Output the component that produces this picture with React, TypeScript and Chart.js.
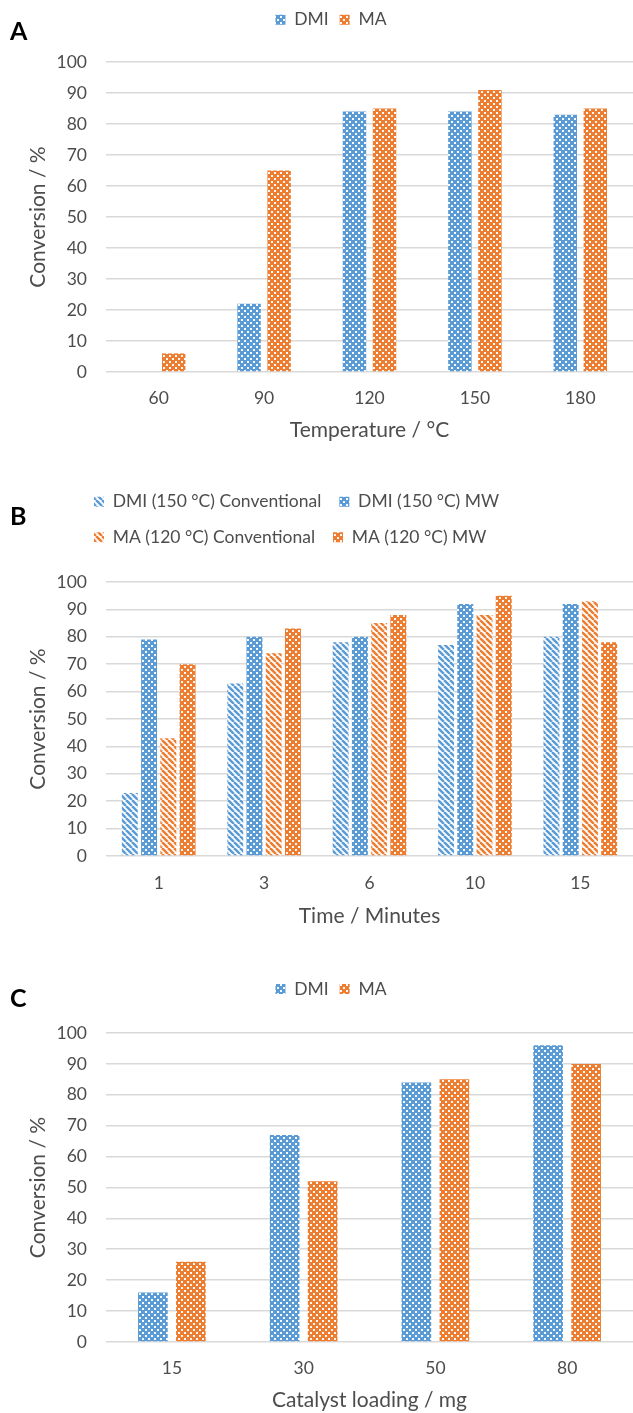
import React, { useEffect, useRef } from 'react';
import { Chart, registerables } from 'chart.js';

Chart.register(...registerables);

// ---------- data ----------
const temperatureLabels = ['60', '90', '120', '150', '180'];
const temperatureDMI = [0, 22, 84, 84, 83];
const temperatureMA = [6, 65, 85, 91, 85];

const timeLabels = ['1', '3', '6', '10', '15'];
const timeDMIConventional = [23, 63, 78, 77, 80];
const timeDMIMW = [79, 80, 80, 92, 92];
const timeMAConventional = [43, 74, 85, 88, 93];
const timeMAMW = [70, 83, 88, 95, 78];

const loadingLabels = ['15', '30', '50', '80'];
const loadingDMI = [16, 67, 84, 96];
const loadingMA = [26, 52, 85, 90];

// ---------- style ----------
const FONT = 'Lato, "Open Sans", "DejaVu Sans", sans-serif';
const TXT = '#4d4d4d';
const GRID = '#D9D9D9';
const BLUE = '#5B9BD5';
const ORANGE = '#ED7D31';

function dotPattern(ctx: CanvasRenderingContext2D, color: string) {
  const s = 6;
  const c = document.createElement('canvas');
  c.width = s;
  c.height = s;
  const g = c.getContext('2d')!;
  g.fillStyle = color;
  g.fillRect(0, 0, s, s);
  g.fillStyle = 'rgba(255,255,255,0.95)';
  g.fillRect(1, 1, 2, 2);
  g.fillRect(4, 4, 2, 2);
  return ctx.createPattern(c, 'repeat') as CanvasPattern;
}

function stripePattern(ctx: CanvasRenderingContext2D, color: string) {
  const s = 6;
  const c = document.createElement('canvas');
  c.width = s;
  c.height = s;
  const g = c.getContext('2d')!;
  g.fillStyle = '#ffffff';
  g.fillRect(0, 0, s, s);
  g.strokeStyle = color;
  g.lineWidth = 2.5;
  for (let k = -1; k <= 1; k++) {
    g.beginPath();
    g.moveTo(k * s, 0);
    g.lineTo(k * s + s, s);
    g.stroke();
  }
  return ctx.createPattern(c, 'repeat') as CanvasPattern;
}

type Layout = {
  height: number;
  padTop: number;
  legendPad: number;
  legendAlign: 'start' | 'center';
  legendLeft?: number;
  spacer: number;
  xAxisH: number;
  xTickPad: number;
  xTitlePb: number;
  catPct: number;
  barPct: number;
  letter: string;
  letterY: number;
  xTitle: string;
};

type DS = { label: string; data: number[]; color: string; kind: 'dot' | 'stripe' };

const PAD_LEFT = 29;
const PLOT_LEFT = 106;

function PanelChart({ labels, series, layout }: { labels: string[]; series: DS[]; layout: Layout }) {
  const ref = useRef<HTMLCanvasElement | null>(null);
  useEffect(() => {
    const canvas = ref.current!;
    const ctx = canvas.getContext('2d')!;
    const yTitleLH = 21 * 1.2;
    const panelPlugin = {
      id: 'panelLetter',
      beforeDraw(chart: any) {
        if (layout.legendLeft !== undefined && chart.legend) {
          chart.legend.left = layout.legendLeft;
        }
      },
      afterDraw(chart: any) {
        const c = chart.ctx;
        c.save();
        c.font = `bold 25px ${FONT}`;
        c.fillStyle = '#000000';
        c.textBaseline = 'middle';
        c.textAlign = 'left';
        c.fillText(layout.letter, 10, layout.letterY);
        c.restore();
      },
    };
    const chart = new Chart(ctx, {
      type: 'bar',
      data: {
        labels,
        datasets: series.map((s) => ({
          label: s.label,
          data: s.data,
          xAxisID: 'x',
          yAxisID: 'y',
          backgroundColor: s.kind === 'dot' ? dotPattern(ctx, s.color) : stripePattern(ctx, s.color),
          borderWidth: 0,
          categoryPercentage: layout.catPct,
          barPercentage: layout.barPct,
        })),
      },
      options: {
        responsive: false,
        animation: false,
        events: [],
        layout: { padding: { top: layout.padTop, left: PAD_LEFT, right: 0, bottom: 0 } },
        plugins: {
          tooltip: { enabled: false },
          legend: {
            position: 'top',
            align: layout.legendAlign,
            labels: {
              color: TXT,
              font: { family: FONT, size: 17.5 },
              boxWidth: 10,
              boxHeight: 10,
              padding: layout.legendPad,
            },
          },
        },
        scales: {
          x: {
            type: 'category',
            position: 'bottom',
            offset: true,
            grid: { display: false, drawTicks: false },
            border: { display: false },
            ticks: { color: TXT, font: { family: FONT, size: 17.5 }, padding: layout.xTickPad, maxRotation: 0 },
            title: {
              display: true,
              text: layout.xTitle,
              color: TXT,
              font: { family: FONT, size: 21 },
              padding: { top: 0, bottom: layout.xTitlePb },
            },
            afterFit: (s: any) => {
              s.height = layout.xAxisH;
            },
          },
          spacer: {
            type: 'category',
            position: 'top',
            display: true,
            grid: { display: false, drawTicks: false },
            border: { display: false },
            ticks: { display: false },
            afterFit: (s: any) => {
              s.height = layout.spacer;
            },
          },
          y: {
            type: 'linear',
            position: 'left',
            min: 0,
            max: 100,
            ticks: { stepSize: 10, padding: 19, color: TXT, font: { family: FONT, size: 17.5 } },
            grid: { color: GRID, lineWidth: 1.6, drawTicks: false },
            border: { display: false },
            title: {
              display: true,
              text: 'Conversion / %',
              color: TXT,
              font: { family: FONT, size: 21 },
              padding: { top: 38 - PAD_LEFT - yTitleLH / 2, bottom: 0 },
            },
            afterFit: (s: any) => {
              s.width = PLOT_LEFT - PAD_LEFT;
            },
          },
        },
      } as any,
      plugins: [panelPlugin],
    });
    return () => chart.destroy();
  }, []);
  return (
    <canvas
      ref={ref}
      width={633}
      height={layout.height}
      style={{ display: 'block', width: 633, height: layout.height }}
    />
  );
}

const layoutA: Layout = {
  height: 460, padTop: 0, legendPad: 11, legendAlign: 'center', spacer: 23.5,
  xAxisH: 88, xTickPad: 15.5, xTitlePb: 17.4, catPct: 0.57, barPct: 0.78,
  letter: 'A', letterY: 31.5, xTitle: 'Temperature / °C',
};
const layoutB: Layout = {
  height: 470, padTop: 5, legendPad: 18, legendAlign: 'start', legendLeft: 76, spacer: 26,
  xAxisH: 84, xTickPad: 16.5, xTitlePb: 11.4, catPct: 0.73, barPct: 0.83,
  letter: 'B', letterY: 47, xTitle: 'Time / Minutes',
};
const layoutC: Layout = {
  height: 463, padTop: 19.25, legendPad: 11, legendAlign: 'center', spacer: 25.25,
  xAxisH: 71, xTickPad: 15.5, xTitlePb: 0.4, catPct: 0.577, barPct: 0.78,
  letter: 'C', letterY: 49, xTitle: 'Catalyst loading / mg',
};

export default function App() {
  return (
    <div style={{ position: 'absolute', left: 0, top: 0, width: 633, height: 1413, background: '#ffffff', overflow: 'hidden' }}>
      <div style={{ position: 'absolute', left: 0, top: 0 }}>
        <PanelChart
          labels={temperatureLabels}
          layout={layoutA}
          series={[
            { label: 'DMI', data: temperatureDMI, color: BLUE, kind: 'dot' },
            { label: 'MA', data: temperatureMA, color: ORANGE, kind: 'dot' },
          ]}
        />
      </div>
      <div style={{ position: 'absolute', left: 0, top: 470 }}>
        <PanelChart
          labels={timeLabels}
          layout={layoutB}
          series={[
            { label: 'DMI (150 °C) Conventional', data: timeDMIConventional, color: BLUE, kind: 'stripe' },
            { label: 'DMI (150 °C) MW', data: timeDMIMW, color: BLUE, kind: 'dot' },
            { label: 'MA (120 °C) Conventional', data: timeMAConventional, color: ORANGE, kind: 'stripe' },
            { label: 'MA (120 °C) MW', data: timeMAMW, color: ORANGE, kind: 'dot' },
          ]}
        />
      </div>
      <div style={{ position: 'absolute', left: 0, top: 950 }}>
        <PanelChart
          labels={loadingLabels}
          layout={layoutC}
          series={[
            { label: 'DMI', data: loadingDMI, color: BLUE, kind: 'dot' },
            { label: 'MA', data: loadingMA, color: ORANGE, kind: 'dot' },
          ]}
        />
      </div>
    </div>
  );
}
